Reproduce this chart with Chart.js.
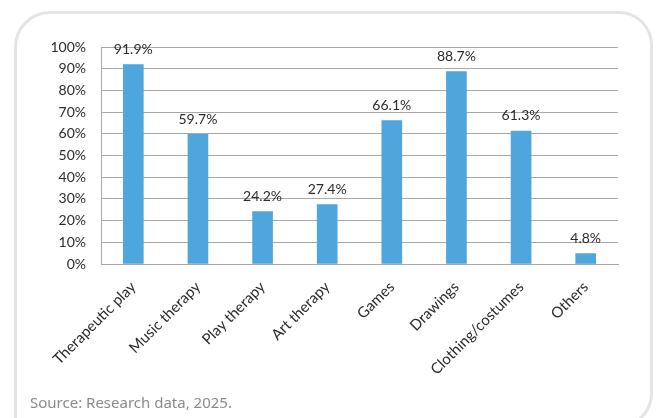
<!DOCTYPE html>
<html>
  <head>
    <title>Therapeutic resources</title>
    <meta charset="utf-8" />
    <script src="https://cdn.jsdelivr.net/npm/chart.js@4.4.0/dist/chart.umd.min.js"></script>
    <style>
      html, body { margin: 0; padding: 0; background: #fff; }
      body { width: 656px; height: 418px; position: relative; overflow: hidden; }
      .frame {
        position: absolute; left: 14px; top: 11px; width: 633px; height: 412px;
        border: 3px solid #e4e4e4;
        border-radius: 36px 34px 36px 0;
      }
      .source {
        position: absolute; left: 30px; top: 392px;
        font-family: "Noto Sans", sans-serif; font-size: 15px; color: #8a8a8a;
      }
      #chart { position: absolute; left: 0; top: 0; }
    </style>
  </head>

  <body>
    <div class="frame"></div>
    <canvas id="chart" width="656" height="418"></canvas>
    <div class="source">Source: Research data, 2025.</div>
    <script>
      const categories = ["Therapeutic play", "Music therapy", "Play therapy", "Art therapy",
        "Games", "Drawings", "Clothing/costumes", "Others"];
      const percents = [91.9, 59.7, 24.2, 27.4, 66.1, 88.7, 61.3, 4.8];
      const yTicks = [0, 10, 20, 30, 40, 50, 60, 70, 80, 90, 100];

      const textColor = "#2b2b2b";
      const gridColor = "#a8a8a8";

      // value labels over each bar
      const barLabels = {
        id: "barLabels",
        afterDatasetsDraw(chart) {
          const ctx = chart.ctx;
          const meta = chart.getDatasetMeta(0);
          ctx.save();
          ctx.font = "14px Lato, sans-serif";
          ctx.fillStyle = textColor;
          ctx.textAlign = "center";
          ctx.textBaseline = "bottom";
          meta.data.forEach((bar, i) => {
            ctx.fillText(percents[i].toFixed(1) + "%", bar.x, bar.y - 8);
          });
          ctx.restore();
        }
      };

      new Chart(document.getElementById("chart"), {
        type: "bar",
        data: {
          labels: categories,
          datasets: [{
            data: percents,
            backgroundColor: "#4ea6dc",
            barThickness: 20
          }]
        },
        options: {
          responsive: false,
          animation: false,
          layout: { padding: { top: 47, right: 38, left: 0, bottom: 0 } },
          plugins: { legend: { display: false }, tooltip: { enabled: false } },
          scales: {
            x: {
              grid: { display: false, drawTicks: false },
              border: { color: gridColor },
              ticks: {
                color: textColor, font: { family: "Lato, sans-serif", size: 15 }, padding: 14,
                minRotation: 45, maxRotation: 45, autoSkip: false
              },
              afterFit(scale) { scale.height = 154; }
            },
            y: {
              min: 0, max: 100,
              afterBuildTicks(scale) { scale.ticks = yTicks.map(v => ({ value: v })); },
              grid: { color: gridColor, drawTicks: false },
              border: { color: gridColor },
              ticks: {
                color: textColor, font: { family: "Lato, sans-serif", size: 14 }, padding: 15,
                callback: v => v + "%"
              },
              afterFit(scale) { scale.width = 101; }
            }
          }
        },
        plugins: [barLabels]
      });
    </script>
  </body>
</html>
